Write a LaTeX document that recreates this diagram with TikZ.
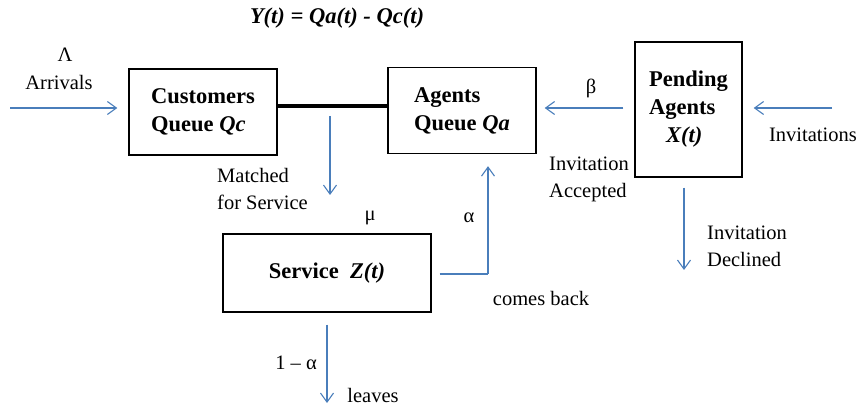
\documentclass[tikz,border=0pt]{standalone}
\usepackage{fontspec}
\setmainfont{Liberation Serif}
\usetikzlibrary{arrows.meta}
\definecolor{flowblue}{RGB}{74,126,187}
\tikzset{
  box/.style={draw=black, line width=1.4pt, rectangle, inner sep=0pt, font=\fontsize{22.5}{28}\selectfont\bfseries},
  lbl/.style={inner sep=0pt, font=\fontsize{20.5}{27}\selectfont},
  flow/.style={draw=flowblue, line width=1.1pt, -{Straight Barb[length=9pt,width=13pt,line width=1.1pt]}},
  flowline/.style={draw=flowblue, line width=1.1pt},
  link/.style={draw=black, line width=4pt}
}
\begin{document}
\begin{tikzpicture}[x=1pt,y=-1pt]
\useasboundingbox (0,0) rectangle (860,406);
% boxes
\node[box, minimum width=148pt, minimum height=86pt, align=left] (cq) at (203,112) {Customers\\Queue \textit{Qc}};
\node[box, minimum width=148pt, minimum height=86pt, align=left] (aq) at (462,110.5) {Agents\\Queue \textit{Qa}};
\node[box, minimum width=107pt, minimum height=135pt, align=left] (pa) at (688.5,109.5) {Pending\\Agents\\\hspace*{17pt}\textit{X(t)}};
\node[box, minimum width=208pt, minimum height=78pt] (sv) at (327,273) {Service\ \ \textit{Z(t)}};
% title
\node[lbl, font=\fontsize{22.5}{28}\selectfont\bfseries\itshape] (title) at (337,18) {Y(t) = Qa(t) - Qc(t)};
% labels
\node[lbl] (lam) at (65,55) {Λ};
\node[lbl] (arr) at (59,82) {Arrivals};
\node[lbl] (beta) at (591,88) {β};
\node[lbl] (inv) at (813,135) {Invitations};
\node[lbl, anchor=west, align=left] (acc) at (549,179) {Invitation\\Accepted};
\node[lbl, anchor=west, align=left] (dec) at (707,246) {Invitation\\Declined};
\node[lbl, anchor=west, align=left] (match) at (217,189) {Matched\\for Service};
\node[lbl] (mu) at (370,218) {μ};
\node[lbl] (alp) at (469,218) {α};
\node[lbl] (cb) at (541,298) {comes back};
\node[lbl] (oma) at (296,363) {1 – α};
\node[lbl] (lv) at (373,395) {leaves};
% coordinates
\coordinate (arrS) at (10,108);
\coordinate (invS) at (832,108);
\coordinate (bet) at (600,108);
\coordinate (mt) at (330,106);
\coordinate (mtE) at (330,195);
\coordinate (decE) at (684,270);
\coordinate (cbC) at (488,274);
\coordinate (lvE) at (327,403);
% thick matching link
\draw[link] (cq.east |- mt) -- (aq.west |- mt);
% flows
\draw[flow, shorten >=11pt] (arrS) -- (arrS -| cq.west);
\draw[flow, shorten >=11pt] (invS) -- (invS -| pa.east);
\draw[flow, shorten <=11pt, shorten >=8pt] (pa.west |- bet) -- (aq.east |- bet);
\draw[flow, shorten <=10pt] (mt) -- (mtE);
\draw[flow, shorten <=10pt] (decE |- pa.south) -- (decE);
\draw[flowline, shorten <=8pt] (sv.east |- cbC) -- (cbC);
\draw[flow, shorten >=12pt] (cbC) -- (cbC |- aq.south);
\draw[flow, shorten <=12pt] (sv.south) -- (lvE);
\end{tikzpicture}
\end{document}
